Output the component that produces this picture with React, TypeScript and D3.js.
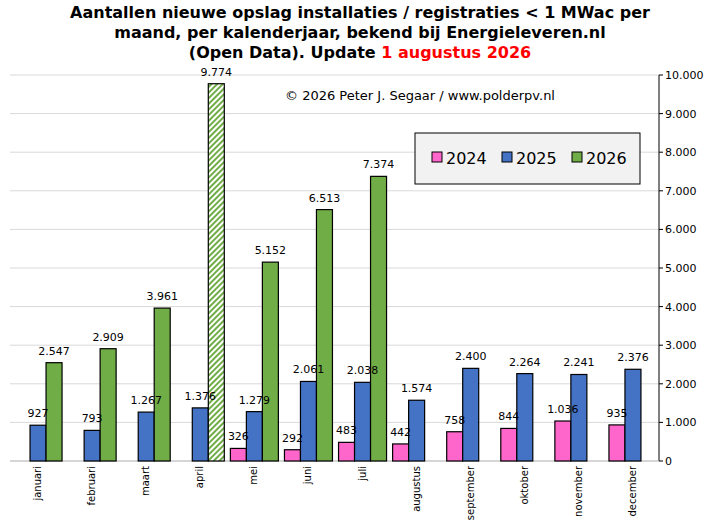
import React from 'react'
import * as d3 from 'd3'

const months = ['januari', 'februari', 'maart', 'april', 'mei', 'juni', 'juli', 'augustus', 'september', 'oktober', 'november', 'december']
const v2024: (number | null)[] = [null, null, null, null, 326, 292, 483, 442, 758, 844, 1036, 935]
const v2025: (number | null)[] = [927, 793, 1267, 1376, 1279, 2061, 2038, 1574, 2400, 2264, 2241, 2376]
const v2026: (number | null)[] = [2547, 2909, 3961, 9774, 5152, 6513, 7374, null, null, null, null, null]
const yTicks = d3.range(0, 10001, 1000)

const fmt = (v: number) => d3.format(',')(v).replace(/,/g, '.')

const series = [
  { name: '2024', values: v2024, color: '#ff66cc', off: -23 },
  { name: '2025', values: v2025, color: '#4472c4', off: -7 },
  { name: '2026', values: v2026, color: '#70ad47', off: 9 },
]

const App = () => {
  const left = 10, right = 659, top = 75, bottom = 461
  const x = d3.scaleBand().domain(months).range([left, right])
  const y = d3.scaleLinear().domain([0, 10000]).range([bottom, top])
  const font = 'Verdana, "DejaVu Sans", sans-serif'
  const cxOf = (i: number) => (x(months[i]) as number) + x.bandwidth() / 2
  const pts = series.flatMap(s => s.values.map((v, i) => ({ s, v, i })).filter(d => d.v != null)) as { s: typeof series[0]; v: number; i: number }[]
  return (
    <svg width={721} height={529} style={{ position: 'absolute', left: 0, top: 0 }} fontFamily={font}>
      <defs>
        <pattern id="hatch" width="4" height="4" patternUnits="userSpaceOnUse" patternTransform="rotate(45)">
          <rect width="4" height="4" fill="#fff" />
          <rect width="2" height="4" fill="#70ad47" />
        </pattern>
      </defs>
      <rect width={721} height={529} fill="#fff" />
      <g fontWeight="bold" fontSize={16} textAnchor="middle">
        <text x={360} y={18}>Aantallen nieuwe opslag installaties  / registraties &lt; 1 MWac per</text>
        <text x={360} y={38}>maand, per kalenderjaar, bekend bij Energieleveren.nl</text>
        <text x={360} y={58}>(Open Data). Update <tspan fill="#ff0000">1 augustus 2026</tspan></text>
      </g>
      {yTicks.map(t => (
        <g key={t}>
          <line x1={left} x2={right} y1={y(t)} y2={y(t)} stroke="#d9d9d9" />
          <line x1={right} x2={right + 4} y1={y(t)} y2={y(t)} stroke="#000" />
          <text x={right + 6} y={y(t) + 4} fontSize={11}>{fmt(t)}</text>
        </g>
      ))}
      <line x1={right} x2={right} y1={top} y2={bottom} stroke="#000" />
      <line x1={left} x2={right} y1={bottom} y2={bottom} stroke="#bfbfbf" />
      <text x={285} y={100} fontSize={13}>© 2026 Peter J. Segaar / www.polderpv.nl</text>
      {pts.map(({ s, v, i }) => (
        <rect key={s.name + i} x={cxOf(i) + s.off} width={16} y={y(v)} height={bottom - y(v)}
          fill={s.name === '2026' && months[i] === 'april' ? 'url(#hatch)' : s.color} stroke="#000" strokeWidth={1.2} />
      ))}
      {pts.map(({ s, v, i }) => (
        <text key={'t' + s.name + i} x={cxOf(i) + s.off + 8} y={y(v) - 8} fontSize={11} textAnchor="middle">{fmt(v)}</text>
      ))}
      {months.map((m, i) => (
        <text key={m} transform={`translate(${cxOf(i) + 4},${bottom + 5}) rotate(-90)`} textAnchor="end" fontSize={10}>{m}</text>
      ))}
      <rect x={415} y={133} width={225} height={51} fill="#f2f2f2" stroke="#000" />
      {series.map((s, i) => (
        <g key={s.name} transform={`translate(${432 + i * 70},158)`}>
          <rect x={0} y={-6} width={10} height={10} fill={s.color} stroke="#000" />
          <text x={14} y={6} fontSize={16}>{s.name}</text>
        </g>
      ))}
    </svg>
  )
}

export default App
